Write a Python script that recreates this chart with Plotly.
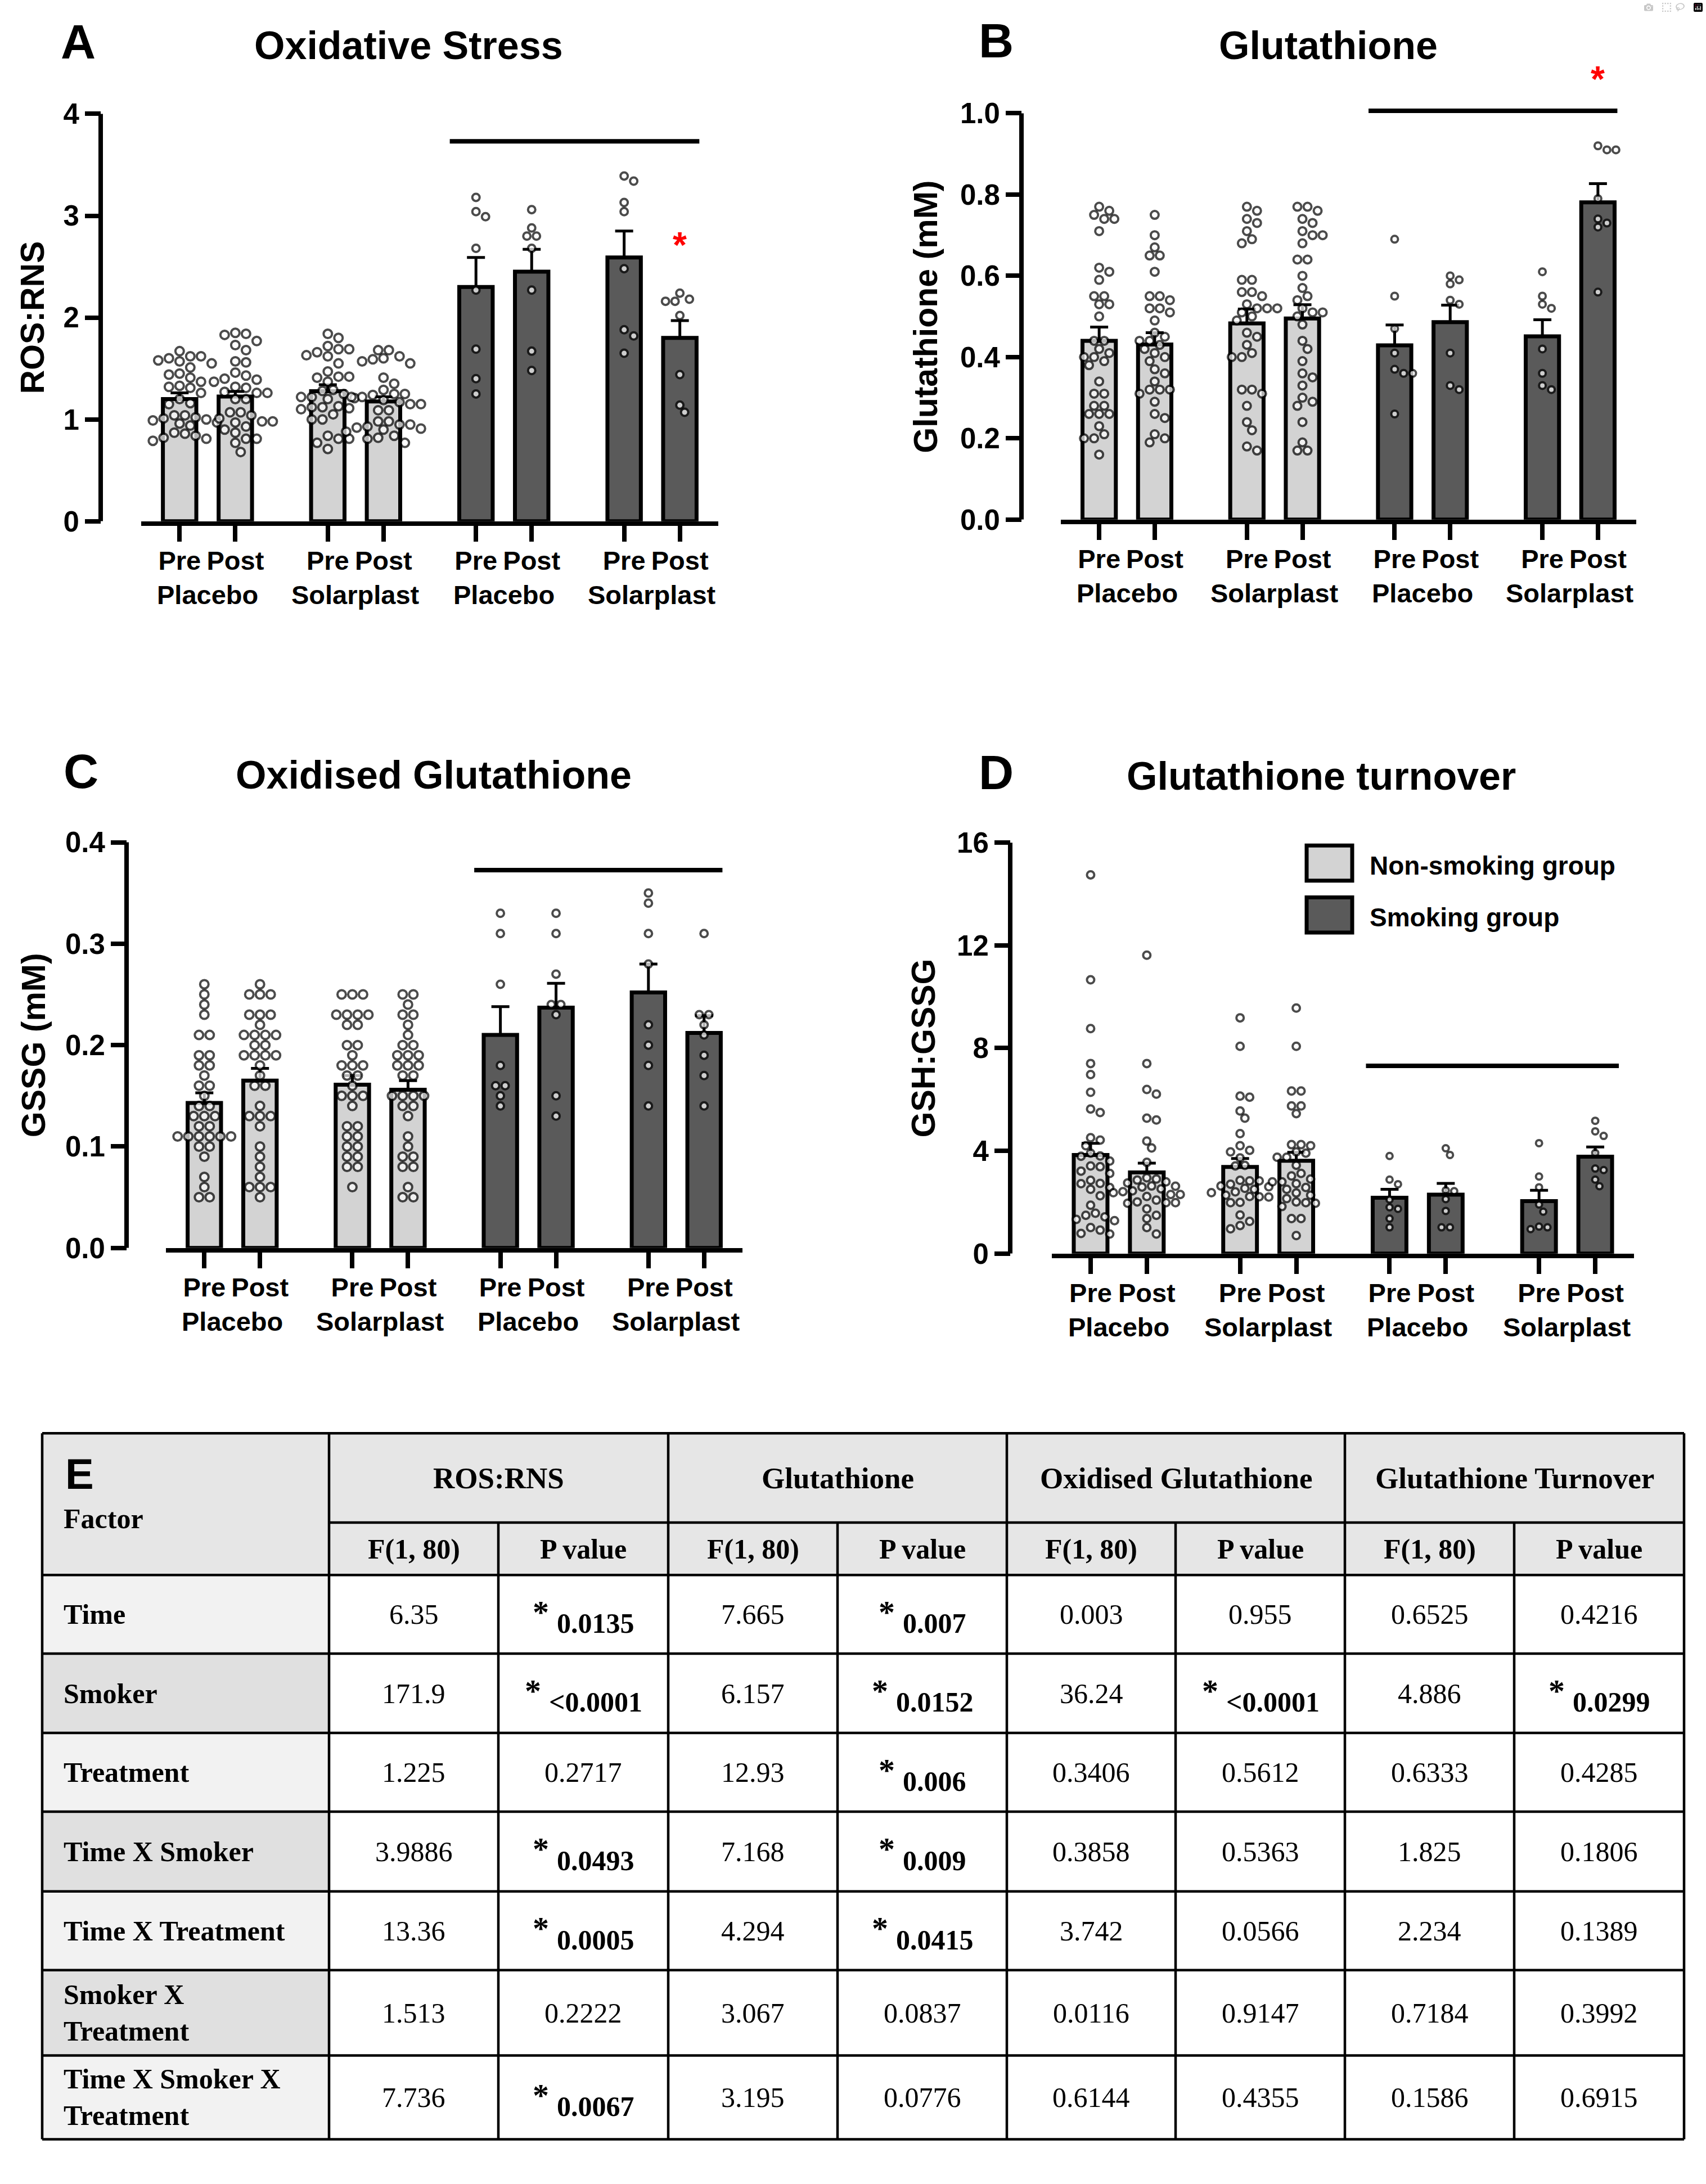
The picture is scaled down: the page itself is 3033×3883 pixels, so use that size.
import plotly.graph_objects as go

W, H = 3033, 3883

# ---------------- data ----------------
bar_labels = ["Pre", "Post", "Pre", "Post", "Pre", "Post", "Pre", "Post"]
group_labels = ["Placebo", "Solarplast", "Placebo", "Solarplast"]
is_smoker = [0, 0, 0, 0, 1, 1, 1, 1]
legend_labels = ["Non-smoking group", "Smoking group"]

# A: ROS:RNS
ros_mean = [1.20, 1.225, 1.277, 1.177, 2.30, 2.45, 2.59, 1.80]
ros_sem = [0.06, 0.05, 0.064, 0.045, 0.29, 0.22, 0.26, 0.17]
ros_pts = [
    [1.67, 1.62, 1.62, 1.60, 1.58, 1.57, 1.55, 1.51, 1.45, 1.44, 1.41, 1.37, 1.33, 1.32, 1.31, 1.26, 1.20,
     1.16, 1.15, 1.04, 1.04, 1.01, 0.99, 1.00, 0.97, 0.94, 0.87, 0.86, 0.84, 0.82, 0.81, 0.79, 1.02, 0.96],
    [1.84, 1.85, 1.83, 1.77, 1.73, 1.68, 1.56, 1.57, 1.46, 1.43, 1.40, 1.39, 1.37, 1.32, 1.31, 1.26, 1.27,
     1.26, 1.20, 1.20, 1.07, 1.07, 1.04, 1.01, 0.98, 0.98, 0.97, 0.93, 0.90, 0.87, 0.81, 0.81, 0.77, 0.68],
    [1.84, 1.80, 1.69, 1.72, 1.69, 1.66, 1.63, 1.62, 1.55, 1.47, 1.42, 1.42, 1.41, 1.37, 1.29, 1.28, 1.22,
     1.22, 1.21, 1.20, 1.13, 1.12, 1.11, 1.10, 1.12, 1.00, 1.00, 0.81, 0.84, 0.81, 0.77, 0.71, 1.25, 1.05],
    [1.68, 1.68, 1.62, 1.59, 1.60, 1.57, 1.55, 1.41, 1.35, 1.29, 1.25, 1.25, 1.22, 1.22, 1.19, 1.17, 1.15,
     1.15, 1.09, 1.09, 0.98, 0.98, 0.95, 0.93, 0.92, 0.91, 0.90, 0.84, 0.82, 0.81, 0.77, 0.95, 1.24, 0.88],
    [3.18, 3.04, 2.99, 2.68, 2.27, 1.69, 1.40, 1.25],
    [3.06, 2.88, 2.80, 2.80, 2.68, 2.27, 1.67, 1.48],
    [3.39, 3.34, 3.13, 3.04, 2.48, 1.88, 1.82, 1.65],
    [2.24, 2.16, 2.16, 2.18, 2.02, 1.44, 1.14, 1.07],
]
ros_ticks = [0, 1, 2, 3, 4]
ros_sigline = 3.73
ros_star = 2.79

# B: Glutathione (mM)
gsh_mean = [0.440, 0.431, 0.483, 0.495, 0.429, 0.486, 0.451, 0.781]
gsh_sem = [0.034, 0.029, 0.035, 0.034, 0.050, 0.042, 0.041, 0.046]
gsh_pts = [
    [0.77, 0.76, 0.75, 0.74, 0.74, 0.71, 0.62, 0.61, 0.59, 0.55, 0.55, 0.53, 0.53, 0.50, 0.44, 0.44, 0.42, 0.41,
     0.40, 0.40, 0.39, 0.38, 0.34, 0.31, 0.31, 0.28, 0.28, 0.26, 0.26, 0.26, 0.23, 0.21, 0.20, 0.20, 0.16],
    [0.75, 0.70, 0.67, 0.65, 0.65, 0.61, 0.55, 0.55, 0.54, 0.52, 0.52, 0.51, 0.49, 0.46, 0.45, 0.44, 0.44, 0.43,
     0.42, 0.41, 0.40, 0.39, 0.37, 0.36, 0.34, 0.32, 0.32, 0.32, 0.31, 0.29, 0.26, 0.25, 0.21, 0.20, 0.19],
    [0.77, 0.76, 0.74, 0.73, 0.71, 0.69, 0.68, 0.59, 0.59, 0.56, 0.56, 0.55, 0.53, 0.52, 0.52, 0.52, 0.51,
     0.50, 0.49, 0.46, 0.45, 0.43, 0.41, 0.40, 0.40, 0.32, 0.32, 0.31, 0.28, 0.24, 0.22, 0.18, 0.17],
    [0.77, 0.77, 0.76, 0.74, 0.73, 0.71, 0.70, 0.70, 0.68, 0.64, 0.64, 0.60, 0.57, 0.55, 0.54, 0.52, 0.51,
     0.51, 0.50, 0.48, 0.44, 0.42, 0.39, 0.36, 0.35, 0.33, 0.30, 0.29, 0.28, 0.24, 0.19, 0.17, 0.17],
    [0.69, 0.55, 0.47, 0.41, 0.37, 0.36, 0.36, 0.26],
    [0.60, 0.58, 0.59, 0.54, 0.53, 0.41, 0.33, 0.32],
    [0.61, 0.55, 0.53, 0.52, 0.42, 0.36, 0.33, 0.32],
    [0.91, 0.92, 0.91, 0.79, 0.74, 0.72, 0.73, 0.56],
]
gsh_ticks = [0.0, 0.2, 0.4, 0.6, 0.8, 1.0]
gsh_sigline = 1.006
gsh_star = 1.103

# C: GSSG (mM)
gssg_mean = [0.143, 0.165, 0.161, 0.156, 0.210, 0.237, 0.252, 0.212]
gssg_sem = [0.010, 0.012, 0.009, 0.009, 0.028, 0.024, 0.028, 0.017]
gssg_pts = [
    [0.26, 0.25, 0.24, 0.23, 0.21, 0.21, 0.19, 0.19, 0.18, 0.18, 0.17, 0.16, 0.16, 0.15, 0.14, 0.14, 0.13,
     0.13, 0.13, 0.12, 0.12, 0.11, 0.11, 0.11, 0.11, 0.11, 0.11, 0.10, 0.10, 0.09, 0.07, 0.06, 0.05, 0.05],
    [0.26, 0.25, 0.25, 0.25, 0.23, 0.23, 0.23, 0.22, 0.21, 0.21, 0.21, 0.21, 0.20, 0.20, 0.19, 0.19, 0.19,
     0.19, 0.18, 0.17, 0.16, 0.16, 0.14, 0.13, 0.13, 0.13, 0.12, 0.10, 0.09, 0.08, 0.07, 0.06, 0.06, 0.06, 0.05],
    [0.25, 0.25, 0.25, 0.23, 0.23, 0.23, 0.23, 0.22, 0.22, 0.20, 0.20, 0.19, 0.18, 0.18, 0.18, 0.17, 0.17,
     0.16, 0.15, 0.15, 0.15, 0.14, 0.12, 0.12, 0.11, 0.11, 0.10, 0.10, 0.09, 0.09, 0.08, 0.08, 0.06],
    [0.25, 0.25, 0.24, 0.23, 0.23, 0.22, 0.21, 0.20, 0.20, 0.19, 0.19, 0.19, 0.18, 0.18, 0.18, 0.17, 0.17,
     0.15, 0.15, 0.15, 0.15, 0.14, 0.14, 0.13, 0.11, 0.10, 0.09, 0.09, 0.08, 0.08, 0.06, 0.05, 0.05],
    [0.33, 0.31, 0.26, 0.18, 0.16, 0.16, 0.15, 0.14],
    [0.33, 0.31, 0.27, 0.24, 0.24, 0.23, 0.15, 0.13],
    [0.35, 0.34, 0.31, 0.28, 0.22, 0.20, 0.18, 0.14],
    [0.31, 0.23, 0.23, 0.22, 0.21, 0.19, 0.17, 0.14],
]
gssg_ticks = [0.0, 0.1, 0.2, 0.3, 0.4]
gssg_sigline = 0.3726

# D: GSH:GSSG
turn_mean = [3.84, 3.16, 3.37, 3.61, 2.17, 2.29, 2.04, 3.77]
turn_sem = [0.45, 0.36, 0.33, 0.33, 0.33, 0.44, 0.42, 0.38]
turn_pts = [
    [14.75, 10.66, 8.76, 7.40, 6.97, 6.28, 5.63, 5.49, 4.51, 4.42, 4.20, 3.91, 3.79, 3.80, 3.60, 3.41, 3.38,
     3.21, 3.12, 2.85, 2.73, 2.72, 2.57, 2.50, 2.25, 1.88, 1.57, 1.49, 1.43, 1.33, 1.28, 1.01, 0.91, 0.78, 0.76],
    [11.62, 7.40, 6.39, 6.21, 5.27, 5.20, 4.38, 4.11, 3.55, 2.95, 2.90, 2.86, 2.79, 2.75, 2.63, 2.59, 2.44,
     2.41, 2.37, 2.30, 2.30, 2.08, 2.01, 1.98, 1.98, 1.96, 1.74, 1.49, 1.36, 1.01, 0.76, 2.52, 2.22, 2.62],
    [9.18, 8.07, 6.13, 6.09, 5.55, 5.27, 4.67, 4.20, 4.02, 3.96, 3.72, 3.43, 3.41, 2.85, 2.83, 2.83, 2.63,
     2.54, 2.37, 2.27, 2.21, 2.20, 2.22, 1.98, 1.99, 1.50, 1.25, 1.09, 0.96, 2.50, 2.60, 2.40, 2.70],
    [9.56, 8.07, 6.33, 6.33, 5.75, 5.75, 5.45, 4.24, 4.20, 4.24, 3.96, 3.91, 3.75, 3.75, 3.44, 3.12, 3.02,
     2.90, 2.79, 2.79, 2.72, 2.57, 2.50, 2.36, 2.27, 2.14, 2.01, 1.98, 1.96, 1.83, 1.36, 1.36, 0.70],
    [3.80, 2.88, 2.70, 2.10, 1.80, 1.74, 1.36, 1.02],
    [4.10, 3.84, 2.46, 2.43, 2.12, 1.66, 1.02, 1.02],
    [4.30, 3.00, 2.58, 1.91, 1.63, 1.05, 1.02, 0.95],
    [5.17, 4.76, 4.58, 3.92, 3.31, 3.25, 2.88, 2.62],
]
turn_ticks = [0, 4, 8, 12, 16]
turn_sigline = 7.31

# E: ANOVA table
factors = ["Time", "Smoker", "Treatment", "Time X Smoker", "Time X Treatment",
           "Smoker X<br>Treatment", "Time X Smoker X<br>Treatment"]
measures = ["ROS:RNS", "Glutathione", "Oxidised Glutathione", "Glutathione Turnover"]
sub_headers = ["F(1, 80)", "P value"]
ros_F = ["6.35", "171.9", "1.225", "3.9886", "13.36", "1.513", "7.736"]
ros_P = ["0.0135", "<0.0001", "0.2717", "0.0493", "0.0005", "0.2222", "0.0067"]
gsh_F = ["7.665", "6.157", "12.93", "7.168", "4.294", "3.067", "3.195"]
gsh_P = ["0.007", "0.0152", "0.006", "0.009", "0.0415", "0.0837", "0.0776"]
gssg_F = ["0.003", "36.24", "0.3406", "0.3858", "3.742", "0.0116", "0.6144"]
gssg_P = ["0.955", "<0.0001", "0.5612", "0.5363", "0.0566", "0.9147", "0.4355"]
turn_F = ["0.6525", "4.886", "0.6333", "1.825", "2.234", "0.7184", "0.1586"]
turn_P = ["0.4216", "0.0299", "0.4285", "0.1806", "0.1389", "0.3992", "0.6915"]
table_F = [ros_F, gsh_F, gssg_F, turn_F]
table_P = [ros_P, gsh_P, gssg_P, turn_P]

# ---------------- style / layout ----------------
NS_COLOR = "#d3d3d3"
SM_COLOR = "#5a5a5a"
SANS = "Liberation Sans"
SERIF = "Liberation Serif"

GROUP_GAP = 2.66
positions = [g * GROUP_GAP + k for g in range(4) for k in (0, 1)]
XRANGE = [-0.69, positions[-1] + 0.69]


def px(x):
    return x / W


def py(y):
    return 1 - y / H


PANELS = [
    dict(letter="A", title="Oxidative Stress", ytitle="ROS:RNS", mean=ros_mean, sem=ros_sem, pts=ros_pts,
         ticks=ros_ticks, fmt="d", top=4.3, sig=ros_sigline, star=ros_star,
         xl=251, xr=1277, yax=179, y0=933, ppu=182.5, letter_xy=(106, 74), title_xy=(726, 81),
         ytitle_x=58, d=19, sigx=(-0.47, 0.35)),
    dict(letter="B", title="Glutathione", ytitle="Glutathione (mM)", mean=gsh_mean, sem=gsh_sem, pts=gsh_pts,
         ticks=gsh_ticks, fmt=".1f", top=1.15, sig=gsh_sigline, star=gsh_star,
         xl=1886, xr=2909, yax=1816, y0=930, ppu=728, letter_xy=(1738, 72), title_xy=(2361, 81),
         ytitle_x=1646, d=18, sigx=(-0.47, 0.35)),
    dict(letter="C", title="Oxidised Glutathione", ytitle="GSSG (mM)", mean=gssg_mean, sem=gssg_sem, pts=gssg_pts,
         ticks=gssg_ticks, fmt=".1f", top=0.43, sig=gssg_sigline, star=None,
         xl=295, xr=1320, yax=225, y0=2235, ppu=1817, letter_xy=(111, 1381), title_xy=(771, 1388),
         ytitle_x=60, d=19, sigx=(-0.47, 0.33)),
    dict(letter="D", title="Glutathione turnover", ytitle="GSH:GSSG", mean=turn_mean, sem=turn_sem, pts=turn_pts,
         ticks=turn_ticks, fmt="d", top=16.6, sig=turn_sigline, star=None,
         xl=1870, xr=2905, yax=1796, y0=2245, ppu=46, letter_xy=(1738, 1383), title_xy=(2349, 1390),
         ytitle_x=1642, d=17, sigx=(-0.42, 0.42)),
]


def swarm(vals, d, ppu, xppu):
    rows = {}
    for i, v in enumerate(vals):
        rows.setdefault(v, []).append(i)
    shifts = [0.0]
    for k in range(1, 40):
        shifts += [k * d / 2, -k * d / 2]
    placed = []
    off = [0.0] * len(vals)
    for v in sorted(rows, reverse=True):
        idx = rows[v]
        n = len(idx)
        base = [(k - (n - 1) / 2) * d for k in range(n)]
        yp = v * ppu
        cand = base
        for s in shifts:
            cand = [b + s for b in base]
            if all((cx - qx) ** 2 + (yp - qy) ** 2 >= (0.88 * d) ** 2 for cx in cand for (qx, qy) in placed):
                break
        for j, cx in zip(idx, cand):
            off[j] = cx / xppu
            placed.append((cx, yp))
    return off


def ann(x, y, s, size, family=SANS, color="black", xanchor="center", yanchor="middle", **kw):
    d = dict(x=x, y=y, text=s, showarrow=False, xanchor=xanchor, yanchor=yanchor,
             font=dict(family=family, size=size, color=color))
    d.update(kw)
    return d


fig = go.Figure()
layout = dict(width=W, height=H, margin=dict(l=0, r=0, t=0, b=0), paper_bgcolor="white",
              plot_bgcolor="white", showlegend=False)
annotations = []
shapes = []

for i, p in enumerate(PANELS):
    n = i + 1
    xa, ya = f"x{n}", f"y{n}"
    xppu = (p["xr"] - p["xl"]) / (XRANGE[1] - XRANGE[0])
    colors = [SM_COLOR if s else NS_COLOR for s in is_smoker]

    fig.add_trace(go.Bar(
        x=positions, y=p["mean"], width=0.6, xaxis=xa, yaxis=ya,
        marker=dict(color=colors, line=dict(color="black", width=7)),
        error_y=dict(type="data", symmetric=False, array=p["sem"], arrayminus=[0] * 8,
                     color="black", thickness=5, width=16),
        hoverinfo="skip"))

    xs, ys, sizes = [], [], []
    for g, vals in enumerate(p["pts"]):
        dg = p["d"] - 2 * is_smoker[g]
        offs = swarm(vals, dg, p["ppu"], xppu)
        xs += [positions[g] + o for o in offs]
        ys += vals
        sizes += [dg - 4] * len(vals)
    fig.add_trace(go.Scatter(
        x=xs, y=ys, mode="markers", xaxis=xa, yaxis=ya,
        marker=dict(symbol="circle", size=sizes, color="white", line=dict(color="black", width=4)),
        hoverinfo="skip"))

    fig.add_trace(go.Scatter(
        x=[positions[4] + p["sigx"][0], positions[7] + p["sigx"][1]], y=[p["sig"], p["sig"]],
        mode="lines", line=dict(color="black", width=8), xaxis=xa, yaxis=ya, hoverinfo="skip"))

    if p["star"] is not None:
        annotations.append(ann(positions[7], p["star"], "<b>*</b>", 64, color="#ff0000",
                               xref=xa, yref=ya, yshift=-14))

    layout[f"xaxis{n}"] = dict(
        domain=[px(p["xl"]), px(p["xr"])], range=XRANGE, anchor=ya,
        tickmode="array", tickvals=positions, ticktext=bar_labels,
        ticks="outside", ticklen=28, tickwidth=8, tickcolor="black", ticklabelstandoff=-6,
        showline=True, linewidth=8, linecolor="black", showgrid=False, zeroline=False,
        tickfont=dict(family=SANS, size=47, color="black", weight="bold"), fixedrange=True)
    layout[f"yaxis{n}"] = dict(
        domain=[py(p["y0"]), py(p["y0"] - p["top"] * p["ppu"])], range=[0, p["top"]],
        anchor="free", position=px(p["yax"]),
        tickmode="array", tickvals=p["ticks"], tickformat=p["fmt"],
        ticks="outside", ticklen=28, tickwidth=8, tickcolor="black",
        showline=False, showgrid=False, zeroline=False,
        tickfont=dict(family=SANS, size=51, color="black", weight="bold"), fixedrange=True)

    shapes.append(dict(type="line", xref="paper", yref=ya, x0=px(p["yax"]), x1=px(p["yax"]),
                       y0=0, y1=p["ticks"][-1], line=dict(color="black", width=8)))

    for g in range(4):
        annotations.append(ann((positions[2 * g] + positions[2 * g + 1]) / 2, py(p["y0"] + 132),
                               f"<b>{group_labels[g]}</b>", 47, xref=xa, yref="paper"))

    annotations.append(ann(px(p["letter_xy"][0]), py(p["letter_xy"][1]), f"<b>{p['letter']}</b>", 86,
                           xanchor="left", xref="paper", yref="paper"))
    annotations.append(ann(px(p["title_xy"][0]), py(p["title_xy"][1]), f"<b>{p['title']}</b>", 70,
                           xref="paper", yref="paper"))
    yc = p["y0"] - p["ticks"][-1] * p["ppu"] / 2
    annotations.append(ann(px(p["ytitle_x"]), py(yc), f"<b>{p['ytitle']}</b>", 59,
                           xref="paper", yref="paper", textangle=-90))

# legend (panel D)
legend_boxes = [(2323, 1514, 2404, 1577), (2323, 1607, 2404, 1670)]
for (x0, y0, x1, y1), lab, col in zip(legend_boxes, legend_labels, [NS_COLOR, SM_COLOR]):
    shapes.append(dict(type="rect", xref="paper", yref="paper", x0=px(x0), x1=px(x1), y0=py(y1), y1=py(y0),
                       fillcolor=col, line=dict(color="black", width=7)))
    annotations.append(ann(px(2433), py((y0 + y1) / 2 + 4), f"<b>{lab}</b>", 46, xanchor="left",
                           xref="paper", yref="paper"))

# ---------------- table ----------------
col_x = [75, 585, 886, 1188, 1489, 1790, 2090, 2391, 2692, 2994]
row_y = [2567, 2727, 2821, 2962, 3104, 3245, 3388, 3529, 3682, 3832]
HEAD_BG = "#e6e6e6"
ROW_BG = ["#f2f2f2", "#e0e0e0"]
LW = 4.5


def rect(x0, y0, x1, y1, color):
    shapes.append(dict(type="rect", xref="paper", yref="paper", x0=px(x0), x1=px(x1), y0=py(y1), y1=py(y0),
                       fillcolor=color, line=dict(width=0), layer="below"))


def hline(x0, x1, y):
    shapes.append(dict(type="line", xref="paper", yref="paper", x0=px(x0), x1=px(x1), y0=py(y), y1=py(y),
                       line=dict(color="black", width=LW)))


def vline(x, y0, y1):
    shapes.append(dict(type="line", xref="paper", yref="paper", x0=px(x), x1=px(x), y0=py(y0), y1=py(y1),
                       line=dict(color="black", width=LW)))


def text(x, y, s, size=50, anchor="center", family=SERIF, bold=False):
    t = f"<b>{s}</b>" if bold else s
    annotations.append(ann(px(x), py(y), t, size, family=family, xanchor=anchor, align=anchor,
                           xref="paper", yref="paper"))


def tw(s, size):
    return size * sum({".": 0.25, "<": 0.57}.get(c, 0.5) for c in s)


rect(col_x[0], row_y[0], col_x[-1], row_y[2], HEAD_BG)
for r in range(len(factors)):
    rect(col_x[0], row_y[2 + r], col_x[1], row_y[3 + r], ROW_BG[r % 2])

hline(col_x[0], col_x[-1], row_y[0])
hline(col_x[1], col_x[-1], row_y[1])
for yy in row_y[2:]:
    hline(col_x[0], col_x[-1], yy)
for k, xx in enumerate(col_x):
    if k in (0, 1, 3, 5, 7, 9):
        vline(xx, row_y[0], row_y[-1])
    else:
        vline(xx, row_y[1], row_y[-1])

text(114, 2640, "E", size=76, anchor="left", family=SANS, bold=True)
text(111, 2720, "Factor", size=50, anchor="left", bold=True)
for m, name in enumerate(measures):
    text((col_x[1 + 2 * m] + col_x[3 + 2 * m]) / 2, (row_y[0] + row_y[1]) / 2, name, size=53, bold=True)
    for s, sh in enumerate(sub_headers):
        text((col_x[1 + 2 * m + s] + col_x[2 + 2 * m + s]) / 2, (row_y[1] + row_y[2]) / 2, sh, size=50,
             bold=True)

for r, fac in enumerate(factors):
    yc = (row_y[2 + r] + row_y[3 + r]) / 2
    text(111, yc, fac, size=50, anchor="left", bold=True)
    for m in range(4):
        cf = (col_x[1 + 2 * m] + col_x[2 + 2 * m]) / 2
        cp = (col_x[2 + 2 * m] + col_x[3 + 2 * m]) / 2
        text(cf, yc, table_F[m][r], size=50)
        pv = table_P[m][r]
        if float(pv.lstrip("<")) < 0.05:
            vc = cp + 22
            text(vc, yc + 16, pv, size=50, bold=True)
            text(vc - tw(pv, 50) / 2 - 12, yc - 4, "*", size=58, anchor="right", bold=True)
        else:
            text(cp, yc, pv, size=50)

layout["annotations"] = annotations
layout["shapes"] = shapes
fig.update_layout(**layout)

fig.write_html("out.html", post_script="document.body.style.margin='0';")
